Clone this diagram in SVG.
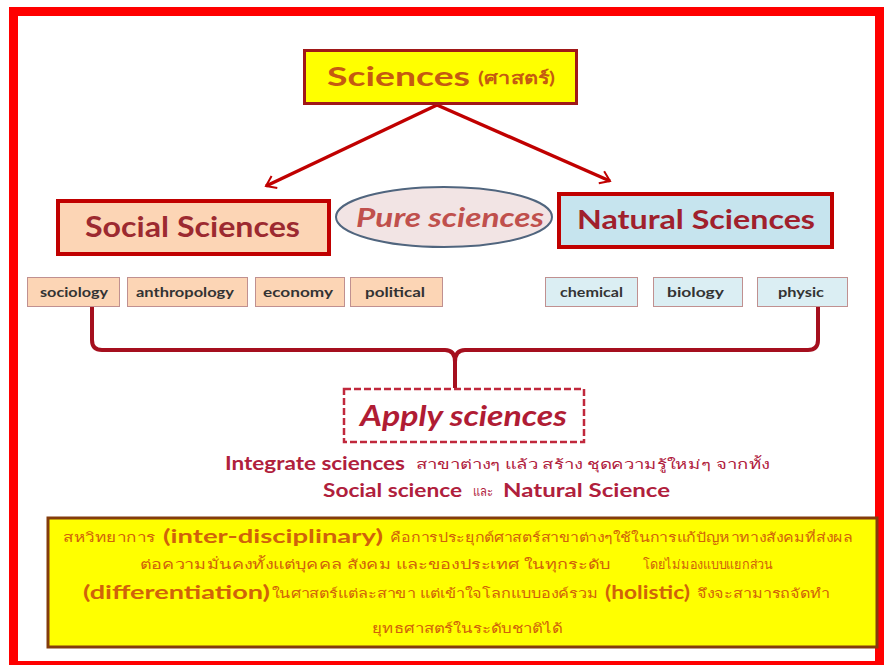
<svg xmlns="http://www.w3.org/2000/svg" width="887" height="665" viewBox="0 0 887 665">
<style>
text{font-family:"Lato","Liberation Sans","Noto Sans",sans-serif;}
.b{font-weight:bold;}
.sm{fill:#fcd5b5;stroke:#c09090;stroke-width:1;}
.sb{fill:#dbeef3;stroke:#c09090;stroke-width:1;}
.st{font-size:14px;font-weight:bold;fill:#333;}
.conn{fill:none;stroke:#c00000;stroke-width:3.5;}
.y{fill:#d0620a;font-size:13px;}
.ye{fill:#d0620a;font-size:18px;font-weight:bold;}
.r{fill:#b0203c;}
</style>
<defs>
<marker id="ah" viewBox="0 0 12 12" refX="10" refY="6" markerWidth="8" markerHeight="8" markerUnits="userSpaceOnUse" orient="auto" overflow="visible">
<path d="M-4,-4 L10,6 L-4,16" fill="none" stroke="#c00000" stroke-width="3"/>
</marker>
</defs>
<rect x="0" y="0" width="887" height="665" fill="#ffffff"/>
<rect x="13.5" y="11.5" width="866" height="654" fill="none" stroke="#ff0000" stroke-width="9"/>

<g id="connectors">
<line class="conn" x1="437" y1="105" x2="266" y2="186" marker-end="url(#ah)"/>
<line class="conn" x1="437" y1="105" x2="610" y2="181" marker-end="url(#ah)"/>
<path d="M92,307 L92,340 Q92,350 102,350 L445,350 Q455,350 455,362 L455,388 M455,362 Q455,350 465,350 L808,350 Q818,350 818,340 L818,307" fill="none" stroke="#a50f1e" stroke-width="4"/>
</g>

<g id="sciences">
<rect x="304.5" y="50.5" width="272" height="53" fill="#ffff00" stroke="#a01818" stroke-width="3"/>
<text x="327" y="86" class="b" font-size="27" fill="#c55a11" textLength="143" lengthAdjust="spacingAndGlyphs">Sciences</text>
<text x="478" y="84" class="b" font-size="17" fill="#c55a11" textLength="77" lengthAdjust="spacingAndGlyphs">(ศาสตร์)</text>
</g>

<g id="social-sciences">
<rect x="58" y="201" width="271" height="53" fill="#fcd5b5" stroke="#c00000" stroke-width="4"/>
<text x="85" y="237" class="b" font-size="29" fill="#9c2a30" textLength="215" lengthAdjust="spacingAndGlyphs">Social Sciences</text>
</g>

<g id="pure-sciences">
<ellipse cx="444" cy="217" rx="108" ry="30" fill="#f2e4e4" stroke="#50657e" stroke-width="2"/>
<text x="356" y="227" class="b" font-style="italic" font-size="27" fill="#c0504d" textLength="188" lengthAdjust="spacingAndGlyphs">Pure sciences</text>
</g>

<g id="natural-sciences">
<rect x="559" y="194" width="273" height="53" fill="#c6e4ee" stroke="#c00000" stroke-width="4"/>
<text x="577" y="229" class="b" font-size="27" fill="#a0202c" textLength="238" lengthAdjust="spacingAndGlyphs">Natural Sciences</text>
</g>

<g id="sociology"><rect class="sm" x="27.5" y="277.5" width="92" height="29"/><text class="st" x="40" y="297" textLength="68" lengthAdjust="spacingAndGlyphs">sociology</text></g>
<g id="anthropology"><rect class="sm" x="127.5" y="277.5" width="120" height="29"/><text class="st" x="136" y="297" textLength="98" lengthAdjust="spacingAndGlyphs">anthropology</text></g>
<g id="economy"><rect class="sm" x="255.5" y="277.5" width="89" height="29"/><text class="st" x="263" y="297" textLength="70" lengthAdjust="spacingAndGlyphs">economy</text></g>
<g id="political"><rect class="sm" x="350.5" y="277.5" width="92" height="29"/><text class="st" x="365" y="297" textLength="60" lengthAdjust="spacingAndGlyphs">political</text></g>

<g id="chemical"><rect class="sb" x="545.5" y="277.5" width="92" height="29"/><text class="st" x="560" y="297" textLength="63" lengthAdjust="spacingAndGlyphs">chemical</text></g>
<g id="biology"><rect class="sb" x="653.5" y="277.5" width="89" height="29"/><text class="st" x="667" y="297" textLength="57" lengthAdjust="spacingAndGlyphs">biology</text></g>
<g id="physic"><rect class="sb" x="757.5" y="277.5" width="90" height="29"/><text class="st" x="778" y="297" textLength="46" lengthAdjust="spacingAndGlyphs">physic</text></g>

<g id="apply-sciences">
<rect x="344" y="389" width="240" height="53" fill="#ffffff" stroke="#c0283c" stroke-width="2.5" stroke-dasharray="7,3"/>
<text x="360" y="426" class="b" font-style="italic" font-size="29" fill="#b01c34" textLength="207" lengthAdjust="spacingAndGlyphs">Apply sciences</text>
</g>

<g id="integrate-text">
<text class="b r" x="225" y="470" font-size="18" textLength="180" lengthAdjust="spacingAndGlyphs">Integrate sciences</text>
<text class="r" x="416" y="469" font-size="13" textLength="354" lengthAdjust="spacingAndGlyphs">สาขาต่างๆ  แล้ว สร้าง ชุดความรู้ใหม่ๆ  จากทั้ง</text>
<text class="b r" x="323" y="497" font-size="18" textLength="139" lengthAdjust="spacingAndGlyphs">Social science</text>
<text class="r" x="473" y="496" font-size="13" textLength="20" lengthAdjust="spacingAndGlyphs">และ</text>
<text class="b r" x="503" y="497" font-size="18" textLength="167" lengthAdjust="spacingAndGlyphs">Natural Science</text>
</g>

<g id="interdisciplinary">
<rect x="48" y="518" width="829" height="129" fill="#ffff00" stroke="#843c0c" stroke-width="3"/>
<text class="y" x="63" y="542" textLength="92" lengthAdjust="spacingAndGlyphs">สหวิทยาการ</text>
<text class="ye" x="163" y="543" textLength="220" lengthAdjust="spacingAndGlyphs">(inter-disciplinary)</text>
<text class="y" x="390" y="542" textLength="463" lengthAdjust="spacingAndGlyphs">คือการประยุกต์ศาสตร์สาขาต่างๆใช้ในการแก้ปัญหาทางสังคมที่ส่งผล</text>
<text class="y" x="140" y="569" textLength="470" lengthAdjust="spacingAndGlyphs">ต่อความมั่นคงทั้งแต่บุคคล สังคม และของประเทศ ในทุกระดับ</text>
<text class="y" x="643" y="569" textLength="130" lengthAdjust="spacingAndGlyphs">โดยไม่มองแบบแยกส่วน</text>
<text class="ye" x="83" y="599" textLength="187" lengthAdjust="spacingAndGlyphs">(differentiation)</text>
<text class="y" x="272" y="598" textLength="326" lengthAdjust="spacingAndGlyphs">ในศาสตร์แต่ละสาขา แต่เข้าใจโลกแบบองค์รวม</text>
<text class="ye" x="605" y="599" textLength="85" lengthAdjust="spacingAndGlyphs">(holistic)</text>
<text class="y" x="697" y="598" textLength="133" lengthAdjust="spacingAndGlyphs">จึงจะสามารถจัดทำ</text>
<text class="y" x="372" y="633" textLength="190" lengthAdjust="spacingAndGlyphs">ยุทธศาสตร์ในระดับชาติได้</text>
</g>
</svg>
